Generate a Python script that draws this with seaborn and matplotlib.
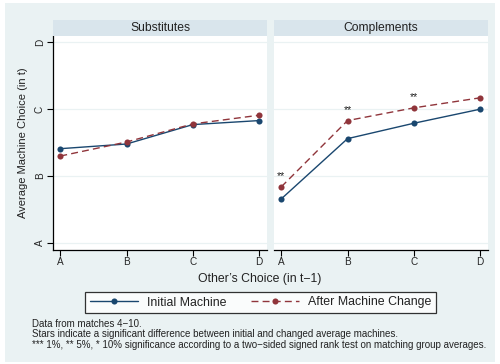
import numpy as np
import pandas as pd
import matplotlib
matplotlib.use("Agg")
import matplotlib.pyplot as plt
import seaborn as sns
from matplotlib.patches import Rectangle
from matplotlib.lines import Line2D

sns.set_theme(style="white")
plt.rcParams['font.family'] = ['Liberation Sans', 'DejaVu Sans']

# ---- data ----
choices = ["A", "B", "C", "D"]
panels = ["Substitutes", "Complements"]
subs_initial = [2.41, 2.48, 2.77, 2.83]
subs_after = [2.30, 2.51, 2.78, 2.91]
comp_initial = [1.66, 2.56, 2.79, 3.00]
comp_after = [1.84, 2.83, 3.02, 3.17]
comp_stars = ["**", "**", "**", ""]
subs_stars = ["", "", "", ""]
series_names = ["Initial Machine", "After Machine Change"]
ytick_labels = ["A", "B", "C", "D"]

rows = []
for pnl, ini, aft in [(panels[0], subs_initial, subs_after), (panels[1], comp_initial, comp_after)]:
    for i, c in enumerate(choices):
        rows.append(dict(panel=pnl, x=i, value=ini[i], series=series_names[0]))
        rows.append(dict(panel=pnl, x=i, value=aft[i], series=series_names[1]))
df = pd.DataFrame(rows)

NAVY = "#1a476f"
MAROON = "#90353b"
BG = "#eaf2f3"
STRIP = "#d9e5ec"
W, H = 500, 364
MS = 4.4

fig = plt.figure(figsize=(W / 100, H / 100), dpi=100)
fig.patch.set_facecolor("white")
fig.patches.append(Rectangle((5 / W, 1 - 362 / H), 490 / W, 359 / H, transform=fig.transFigure,
                             facecolor=BG, edgecolor="none", zorder=-10))


def px_axes(x0, y0, x1, y1):
    return [x0 / W, 1 - y1 / H, (x1 - x0) / W, (y1 - y0) / H]


axes_px = [(53, 36, 267, 250), (274, 36, 488, 250)]
stars_all = [subs_stars, comp_stars]
for k, pnl in enumerate(panels):
    x0, y0, x1, y1 = axes_px[k]
    ax = fig.add_axes(px_axes(x0, y0, x1, y1))
    ax.set_facecolor("white")
    sub = df[df.panel == pnl]
    sns.lineplot(data=sub, x="x", y="value", hue="series", style="series",
                 palette=[NAVY, MAROON], dashes=[(1, 0), (5, 3)], markers=["o", "o"],
                 markersize=MS, markeredgewidth=0, linewidth=1.0, ax=ax, legend=False)
    ax.set_xlim(-0.11, 3.12)
    ax.set_ylim(0.896, 4.094)
    for yv in [1, 2, 3, 4]:
        ax.axhline(yv, color=BG, lw=0.9, zorder=0)
    ax.set_xticks(range(4))
    ax.set_xticklabels(choices, fontsize=7.2)
    ax.set_xlabel("")
    ax.set_ylabel("")
    ax.set_yticks([1, 2, 3, 4])
    for s in ["top", "right"]:
        ax.spines[s].set_visible(False)
    ax.spines["bottom"].set_color("black")
    ax.spines["bottom"].set_linewidth(0.9)
    if k == 0:
        ax.set_yticklabels(ytick_labels, fontsize=7.2, rotation=90, va="center")
        ax.spines["left"].set_color("black")
        ax.spines["left"].set_linewidth(0.9)
        ax.tick_params(axis="y", length=4, width=0.8, color="black", left=True, pad=2)
    else:
        ax.set_yticklabels([])
        ax.spines["left"].set_visible(False)
        ax.tick_params(axis="y", length=0)
    ax.tick_params(axis="x", length=4, width=0.8, color="black", bottom=True, pad=1)
    aft = [subs_after, comp_after][k]
    for i, st in enumerate(stars_all[k]):
        if st:
            ax.annotate(st, (i, aft[i]), xytext=(0, 7.5), textcoords="offset points",
                        ha="center", va="center", fontsize=7.5, color="#222222")
    # strip
    sax = fig.add_axes(px_axes(x0, 20, x1, 36))
    sax.set_facecolor(STRIP)
    sax.set_xticks([]); sax.set_yticks([])
    for s in sax.spines.values():
        s.set_visible(False)
    sax.text(0.5, 0.5, pnl, ha="center", va="center", fontsize=8.7, color="#222222",
             transform=sax.transAxes)

fig.text(23 / W, 1 - 143 / H, "Average Machine Choice (in t)", rotation=90,
         ha="center", va="center", fontsize=8, color="#222222")
fig.text(260 / W, 1 - 279 / H, "Other\u2019s Choice (in t\u22121)",
         ha="center", va="center", fontsize=8.8, color="#222222")

handles = [Line2D([], [], color=NAVY, lw=1.0, marker="o", markersize=MS, markeredgewidth=0),
           Line2D([], [], color=MAROON, lw=1.0, ls=(0, (5, 3)), marker="o", markersize=MS,
                  markeredgewidth=0)]
leg = fig.legend(handles, series_names, loc="center", ncol=2,
                 bbox_to_anchor=(260.5 / W, 1 - 302.5 / H), fontsize=8.9, frameon=True,
                 fancybox=False, edgecolor="black", facecolor="white", handlelength=3.9,
                 columnspacing=2.0, handletextpad=0.7, borderpad=0.4)
leg.get_frame().set_linewidth(0.9)
for t in leg.get_texts():
    t.set_color("#222222")

notes = ["Data from matches 4\u221210.",
         "Stars indicate a significant difference between initial and changed average machines.",
         "*** 1%, ** 5%, * 10% significance according to a two\u2212sided signed rank test on matching group averages."]
for i, line in enumerate(notes):
    fig.text(32 / W, 1 - (324 + 10.3 * i) / H, line, ha="left", va="center", fontsize=7.0,
             color="#222222")

fig.savefig("out.png", dpi=100, facecolor=fig.get_facecolor())
